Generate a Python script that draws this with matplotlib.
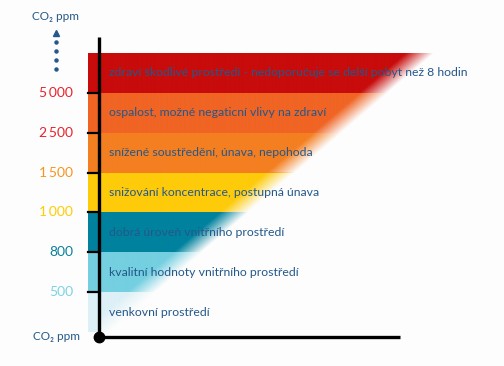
import numpy as np
import matplotlib
matplotlib.use("Agg")
import matplotlib.pyplot as plt
from matplotlib.colors import to_rgb

plt.rcParams['font.family'] = ['Lato', 'DejaVu Sans']

# bands from bottom (lowest CO2) to top
band_texts = [
    "venkovní prostředí",
    "kvalitní hodnoty vnitřního prostředí",
    "dobrá úroveň vnitřního prostředí",
    "snižování koncentrace, postupná únava",
    "snížené soustředění, únava, nepohoda",
    "ospalost, možné negaticní vlivy na zdraví",
    "zdraví škodlivé prostředí - nedoporučuje se delší pobyt než 8 hodin",
]
band_colors = ["#dcf0f6", "#74cfe0", "#00819d", "#fecb0a", "#f47f21", "#f06424", "#c80b0b"]

thresholds = ["500", "800", "1\u2009000", "1\u2009500", "2\u2009500", "5\u2009000"]
threshold_colors = ["#7dd3e3", "#0a8199", "#ffcc00", "#f7941d", "#e8232a", "#e8232a"]

text_color = "#24588a"

fig = plt.figure(figsize=(5.04, 3.66), dpi=100)
fig.patch.set_facecolor("#fdfdfd")
# axes: x and y both in "band height" units, vertical axis at x=0
ax = fig.add_axes([88 / 504, 29 / 366, 352 / 504, 300 / 366])
ax.set_xlim(-0.275, 8.55)
ax.set_ylim(-0.125, 7.4)
ax.axis("off")

n = len(band_texts)
x0, x1 = -0.275, 8.55
fade = 0.7
xs = np.linspace(x0, x1, 700)
for i, (txt, col) in enumerate(zip(band_texts, band_colors)):
    ys = np.linspace(i + 1, i, 80)
    X, Y = np.meshgrid(xs, ys)
    edge = 0.25 + Y * (8.15 / n)
    alpha = np.clip((edge - X) / fade, 0, 1)
    alpha[X < 0] = 1
    img = np.zeros(X.shape + (4,))
    img[..., :3] = to_rgb(col)
    img[..., 3] = alpha
    ax.imshow(img, extent=(x0, x1, i, i + 1), aspect="auto",
              interpolation="bilinear", zorder=1)
    ax.text(0.25, i + 0.5, txt, color=text_color, fontsize=8.8,
            va="center", ha="left", zorder=3)

# threshold ticks and labels
for j, (lab, col) in enumerate(zip(thresholds, threshold_colors)):
    y = j + 1
    ax.plot([-0.275, 0], [y, y], color="black", lw=1.6, zorder=4, clip_on=False)
    ax.text(-0.65, y, lab, color=col, fontsize=10, ha="right", va="center",
            clip_on=False)

# axes lines
ax.plot([0, 0], [-0.125, 7.4], color="black", lw=2.4, zorder=5, clip_on=False,
        solid_capstyle="butt")
ax.plot([0, 7.54], [-0.125, -0.125], color="black", lw=2.4, zorder=5,
        clip_on=False, solid_capstyle="butt")
ax.plot([0], [-0.125], "o", color="black", markersize=7.5, zorder=6, clip_on=False)

# axis labels
ax.text(-0.48, -0.125, "CO\u2082 ppm", color=text_color, fontsize=8.5,
        ha="right", va="center", clip_on=False)
ax.text(-1.08, 7.92, "CO\u2082 ppm", color=text_color, fontsize=8.5,
        ha="center", va="center", clip_on=False)
ax.plot([-1.08], [7.5], "^", color=text_color, markersize=4.5, clip_on=False)
ax.plot([-1.08] * 4, [7.28, 7.05, 6.83, 6.6], "o", color=text_color,
        markersize=2.2, clip_on=False)

fig.savefig("out.png", dpi=100, facecolor=fig.get_facecolor())
